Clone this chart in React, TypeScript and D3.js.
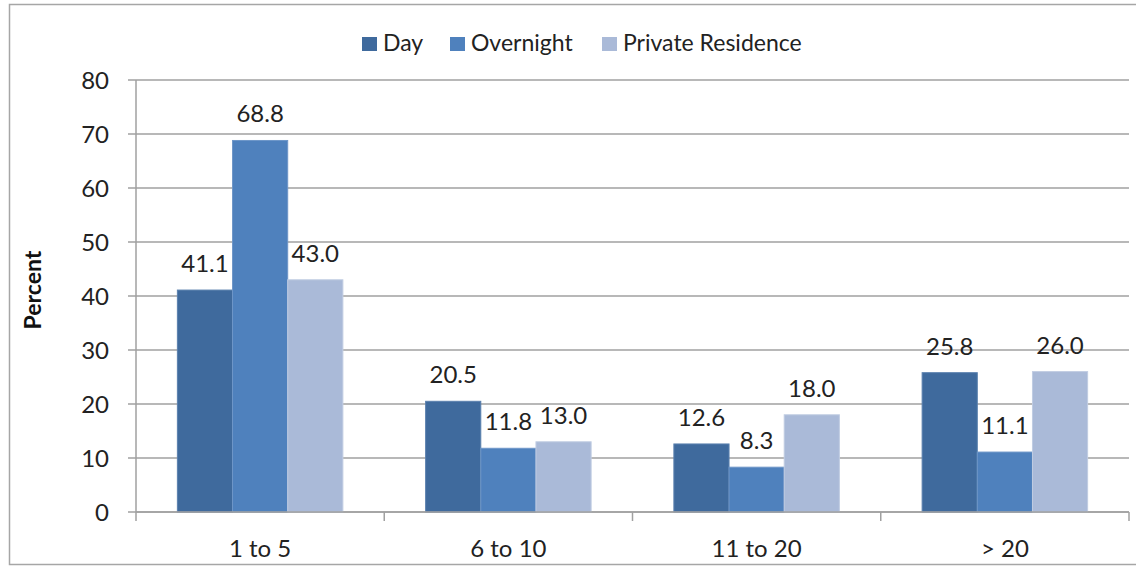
import { useEffect, useRef } from 'react'
import * as d3 from 'd3'

const categories = ['1 to 5', '6 to 10', '11 to 20', '> 20']
const seriesNames = ['Day', 'Overnight', 'Private Residence']
const dayValues = [41.1, 20.5, 12.6, 25.8]
const overnightValues = [68.8, 11.8, 8.3, 11.1]
const privateValues = [43.0, 13.0, 18.0, 26.0]
const yTicks = [0, 10, 20, 30, 40, 50, 60, 70, 80]

const colors = ['#3F6A9D', '#4F81BD', '#AABAD8']
const strokes = ['#5A80AE', '#6E96C8', '#C0CCE2']
const FONT = 'Lato, "Open Sans", sans-serif'

export default function App() {
  const svgRef = useRef<SVGSVGElement>(null)

  useEffect(() => {
    if (!svgRef.current) return
    const svg = d3.select(svgRef.current)
    svg.selectAll('*').remove()

    const width = 1136
    const height = 566
    const margin = { top: 80, right: 7, bottom: 54, left: 136 }
    const plotW = width - margin.left - margin.right
    const plotH = height - margin.top - margin.bottom

    // chart frame (right side runs off the picture)
    svg.append('rect')
      .attr('x', 9.5).attr('y', 4.5)
      .attr('width', 1140).attr('height', 560)
      .attr('fill', '#fff').attr('stroke', '#A6A6A6').attr('stroke-width', 1.5)

    const g = svg.append('g').attr('transform', `translate(${margin.left},${margin.top})`)

    const x0 = d3.scaleBand().domain(categories).range([0, plotW]).padding(0)
    const x1 = d3.scaleBand().domain(seriesNames).range([0, x0.bandwidth()])
      .paddingInner(0).paddingOuter(0.75)
    const y = d3.scaleLinear().domain([0, 80]).range([plotH, 0])

    // gridlines
    g.append('g').selectAll('line').data(yTicks).join('line')
      .attr('x1', -8).attr('x2', plotW)
      .attr('y1', (d) => y(d)).attr('y2', (d) => y(d))
      .attr('stroke', '#A0A0A0').attr('stroke-width', 1.5)

    // y tick labels
    g.append('g').selectAll('text').data(yTicks).join('text')
      .attr('x', -27).attr('y', (d) => y(d))
      .attr('dy', '0.36em')
      .attr('text-anchor', 'end')
      .attr('font-family', FONT).attr('font-size', 24).attr('fill', '#222')
      .text((d) => d)

    const series = [dayValues, overnightValues, privateValues]

    // bars
    series.forEach((vals, si) => {
      const sg = g.append('g')
      sg.selectAll('rect').data(vals).join('rect')
        .attr('x', (_, i) => (x0(categories[i]) ?? 0) + (x1(seriesNames[si]) ?? 0))
        .attr('y', (d) => y(d))
        .attr('width', x1.bandwidth())
        .attr('height', (d) => plotH - y(d))
        .attr('fill', colors[si])
        .attr('stroke', strokes[si]).attr('stroke-width', 1)

      sg.selectAll('text').data(vals).join('text')
        .attr('x', (_, i) => (x0(categories[i]) ?? 0) + (x1(seriesNames[si]) ?? 0) + x1.bandwidth() / 2)
        .attr('y', (d) => y(d) - 18)
        .attr('text-anchor', 'middle')
        .attr('font-family', FONT).attr('font-size', 24).attr('fill', '#222')
        .text((d) => d.toFixed(1))
    })

    // y axis line
    g.append('line')
      .attr('x1', 0).attr('x2', 0).attr('y1', 0).attr('y2', plotH)
      .attr('stroke', '#A0A0A0').attr('stroke-width', 1.5)

    // x axis
    g.append('line')
      .attr('x1', 0).attr('x2', plotW).attr('y1', plotH).attr('y2', plotH)
      .attr('stroke', '#A0A0A0').attr('stroke-width', 1.5)
    const bounds = categories.map((c) => x0(c) ?? 0).concat([plotW])
    g.append('g').selectAll('line').data(bounds).join('line')
      .attr('x1', (d) => d).attr('x2', (d) => d)
      .attr('y1', plotH).attr('y2', plotH + 9)
      .attr('stroke', '#A0A0A0').attr('stroke-width', 1.5)

    g.append('g').selectAll('text').data(categories).join('text')
      .attr('x', (d) => (x0(d) ?? 0) + x0.bandwidth() / 2)
      .attr('y', plotH + 45)
      .attr('text-anchor', 'middle')
      .attr('font-family', FONT).attr('font-size', 24).attr('fill', '#222')
      .text((d) => d)

    // y axis title
    svg.append('text')
      .attr('transform', `translate(41,${margin.top + y(40) - 6}) rotate(-90)`)
      .attr('text-anchor', 'middle')
      .attr('font-family', FONT).attr('font-size', 23).attr('font-weight', 'bold')
      .attr('fill', '#111')
      .text('Percent')

    // legend
    const legendX = [362, 450, 602]
    const lg = svg.append('g')
    seriesNames.forEach((name, i) => {
      lg.append('rect')
        .attr('x', legendX[i]).attr('y', 37)
        .attr('width', 15).attr('height', 14)
        .attr('fill', colors[i])
      lg.append('text')
        .attr('x', legendX[i] + 21).attr('y', 51)
        .attr('font-family', FONT).attr('font-size', 23).attr('fill', '#222')
        .text(name)
    })
  }, [])

  return (
    <svg
      ref={svgRef}
      width={1136}
      height={566}
      style={{ position: 'absolute', left: 0, top: 0, display: 'block' }}
    />
  )
}
